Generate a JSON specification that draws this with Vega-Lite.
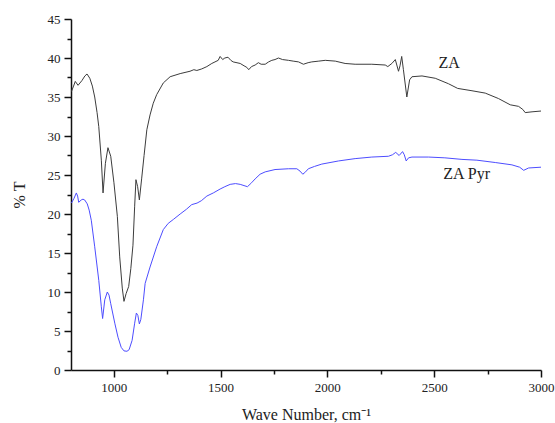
{
  "$schema": "https://vega.github.io/schema/vega-lite/v6.json",
  "width": 470,
  "height": 351,
  "autosize": {"type": "none"},
  "padding": {"left": 71, "top": 19, "right": 14, "bottom": 53},
  "background": "white",
  "config": {"view": {"stroke": null}, "font": "Liberation Serif"},
  "datasets": {
    "spectra": [
      {"s": "ZA", "x": 802, "y": 35.7}, {"s": "ZA", "x": 812, "y": 36.4}, {"s": "ZA", "x": 820, "y": 37.0}, {"s": "ZA", "x": 833, "y": 36.5},
      {"s": "ZA", "x": 851, "y": 37.1}, {"s": "ZA", "x": 865, "y": 37.7}, {"s": "ZA", "x": 875, "y": 37.95}, {"s": "ZA", "x": 888, "y": 37.4},
      {"s": "ZA", "x": 900, "y": 36.4}, {"s": "ZA", "x": 911, "y": 35.0}, {"s": "ZA", "x": 922, "y": 33.0}, {"s": "ZA", "x": 930, "y": 31.2},
      {"s": "ZA", "x": 942, "y": 26.9}, {"s": "ZA", "x": 950, "y": 22.7}, {"s": "ZA", "x": 961, "y": 26.5}, {"s": "ZA", "x": 973, "y": 28.5},
      {"s": "ZA", "x": 986, "y": 27.4}, {"s": "ZA", "x": 1001, "y": 24.0}, {"s": "ZA", "x": 1017, "y": 19.7}, {"s": "ZA", "x": 1028, "y": 14.5},
      {"s": "ZA", "x": 1040, "y": 10.5}, {"s": "ZA", "x": 1048, "y": 8.8}, {"s": "ZA", "x": 1058, "y": 9.8}, {"s": "ZA", "x": 1070, "y": 10.7},
      {"s": "ZA", "x": 1080, "y": 13.0}, {"s": "ZA", "x": 1090, "y": 16.0}, {"s": "ZA", "x": 1098, "y": 21.0}, {"s": "ZA", "x": 1104, "y": 24.4},
      {"s": "ZA", "x": 1112, "y": 23.5}, {"s": "ZA", "x": 1120, "y": 21.8}, {"s": "ZA", "x": 1131, "y": 24.6}, {"s": "ZA", "x": 1142, "y": 27.5},
      {"s": "ZA", "x": 1155, "y": 30.8}, {"s": "ZA", "x": 1170, "y": 32.7}, {"s": "ZA", "x": 1185, "y": 34.2}, {"s": "ZA", "x": 1201, "y": 35.3},
      {"s": "ZA", "x": 1232, "y": 36.8}, {"s": "ZA", "x": 1264, "y": 37.6}, {"s": "ZA", "x": 1311, "y": 38.0}, {"s": "ZA", "x": 1357, "y": 38.3},
      {"s": "ZA", "x": 1375, "y": 38.5}, {"s": "ZA", "x": 1389, "y": 38.4}, {"s": "ZA", "x": 1412, "y": 38.6}, {"s": "ZA", "x": 1436, "y": 38.9},
      {"s": "ZA", "x": 1459, "y": 39.3}, {"s": "ZA", "x": 1474, "y": 39.5}, {"s": "ZA", "x": 1489, "y": 39.7}, {"s": "ZA", "x": 1498, "y": 40.2},
      {"s": "ZA", "x": 1510, "y": 39.8}, {"s": "ZA", "x": 1520, "y": 40.0}, {"s": "ZA", "x": 1535, "y": 40.1}, {"s": "ZA", "x": 1548, "y": 39.7},
      {"s": "ZA", "x": 1559, "y": 39.5}, {"s": "ZA", "x": 1592, "y": 39.3}, {"s": "ZA", "x": 1610, "y": 39.0}, {"s": "ZA", "x": 1623, "y": 38.8},
      {"s": "ZA", "x": 1632, "y": 38.5}, {"s": "ZA", "x": 1645, "y": 38.9}, {"s": "ZA", "x": 1662, "y": 39.1}, {"s": "ZA", "x": 1677, "y": 39.4},
      {"s": "ZA", "x": 1690, "y": 39.2}, {"s": "ZA", "x": 1709, "y": 39.2}, {"s": "ZA", "x": 1725, "y": 39.5}, {"s": "ZA", "x": 1740, "y": 39.7},
      {"s": "ZA", "x": 1755, "y": 39.8}, {"s": "ZA", "x": 1771, "y": 40.0}, {"s": "ZA", "x": 1790, "y": 39.8}, {"s": "ZA", "x": 1818, "y": 39.7},
      {"s": "ZA", "x": 1840, "y": 39.6}, {"s": "ZA", "x": 1865, "y": 39.5}, {"s": "ZA", "x": 1888, "y": 39.2}, {"s": "ZA", "x": 1910, "y": 39.4},
      {"s": "ZA", "x": 1927, "y": 39.5}, {"s": "ZA", "x": 1960, "y": 39.6}, {"s": "ZA", "x": 1990, "y": 39.7}, {"s": "ZA", "x": 2037, "y": 39.6},
      {"s": "ZA", "x": 2083, "y": 39.3}, {"s": "ZA", "x": 2130, "y": 39.2}, {"s": "ZA", "x": 2208, "y": 39.2}, {"s": "ZA", "x": 2271, "y": 39.1},
      {"s": "ZA", "x": 2283, "y": 38.9}, {"s": "ZA", "x": 2302, "y": 39.3}, {"s": "ZA", "x": 2318, "y": 39.8}, {"s": "ZA", "x": 2333, "y": 38.3},
      {"s": "ZA", "x": 2340, "y": 39.0}, {"s": "ZA", "x": 2348, "y": 40.2}, {"s": "ZA", "x": 2356, "y": 38.5}, {"s": "ZA", "x": 2372, "y": 35.0},
      {"s": "ZA", "x": 2385, "y": 37.2}, {"s": "ZA", "x": 2396, "y": 37.6}, {"s": "ZA", "x": 2443, "y": 37.7}, {"s": "ZA", "x": 2505, "y": 37.4},
      {"s": "ZA", "x": 2567, "y": 36.7}, {"s": "ZA", "x": 2610, "y": 36.1}, {"s": "ZA", "x": 2677, "y": 35.8}, {"s": "ZA", "x": 2739, "y": 35.5},
      {"s": "ZA", "x": 2801, "y": 34.8}, {"s": "ZA", "x": 2856, "y": 34.0}, {"s": "ZA", "x": 2895, "y": 33.8}, {"s": "ZA", "x": 2915, "y": 33.4},
      {"s": "ZA", "x": 2926, "y": 33.0}, {"s": "ZA", "x": 2958, "y": 33.1}, {"s": "ZA", "x": 3000, "y": 33.2},
      {"s": "ZA Pyr", "x": 802, "y": 21.4}, {"s": "ZA Pyr", "x": 814, "y": 22.0}, {"s": "ZA Pyr", "x": 825, "y": 22.7}, {"s": "ZA Pyr", "x": 831, "y": 22.3},
      {"s": "ZA Pyr", "x": 836, "y": 21.5}, {"s": "ZA Pyr", "x": 848, "y": 21.8}, {"s": "ZA Pyr", "x": 856, "y": 21.9}, {"s": "ZA Pyr", "x": 864, "y": 21.8},
      {"s": "ZA Pyr", "x": 876, "y": 21.3}, {"s": "ZA Pyr", "x": 885, "y": 20.5}, {"s": "ZA Pyr", "x": 895, "y": 19.2}, {"s": "ZA Pyr", "x": 911, "y": 15.8},
      {"s": "ZA Pyr", "x": 930, "y": 11.5}, {"s": "ZA Pyr", "x": 942, "y": 8.1}, {"s": "ZA Pyr", "x": 948, "y": 6.6}, {"s": "ZA Pyr", "x": 958, "y": 9.0},
      {"s": "ZA Pyr", "x": 970, "y": 10.0}, {"s": "ZA Pyr", "x": 978, "y": 9.6}, {"s": "ZA Pyr", "x": 986, "y": 8.5}, {"s": "ZA Pyr", "x": 1005, "y": 6.0},
      {"s": "ZA Pyr", "x": 1020, "y": 4.2}, {"s": "ZA Pyr", "x": 1035, "y": 2.9}, {"s": "ZA Pyr", "x": 1048, "y": 2.45}, {"s": "ZA Pyr", "x": 1062, "y": 2.4},
      {"s": "ZA Pyr", "x": 1072, "y": 2.6}, {"s": "ZA Pyr", "x": 1086, "y": 3.8}, {"s": "ZA Pyr", "x": 1098, "y": 6.0}, {"s": "ZA Pyr", "x": 1106, "y": 7.3},
      {"s": "ZA Pyr", "x": 1113, "y": 7.0}, {"s": "ZA Pyr", "x": 1120, "y": 5.9}, {"s": "ZA Pyr", "x": 1127, "y": 6.5}, {"s": "ZA Pyr", "x": 1139, "y": 9.0},
      {"s": "ZA Pyr", "x": 1147, "y": 11.1}, {"s": "ZA Pyr", "x": 1170, "y": 13.2}, {"s": "ZA Pyr", "x": 1201, "y": 15.8}, {"s": "ZA Pyr", "x": 1232, "y": 18.0},
      {"s": "ZA Pyr", "x": 1255, "y": 18.8}, {"s": "ZA Pyr", "x": 1279, "y": 19.3}, {"s": "ZA Pyr", "x": 1311, "y": 20.0}, {"s": "ZA Pyr", "x": 1340, "y": 20.6},
      {"s": "ZA Pyr", "x": 1365, "y": 21.2}, {"s": "ZA Pyr", "x": 1390, "y": 21.4}, {"s": "ZA Pyr", "x": 1410, "y": 21.7}, {"s": "ZA Pyr", "x": 1436, "y": 22.3},
      {"s": "ZA Pyr", "x": 1466, "y": 22.7}, {"s": "ZA Pyr", "x": 1498, "y": 23.2}, {"s": "ZA Pyr", "x": 1520, "y": 23.5}, {"s": "ZA Pyr", "x": 1545, "y": 23.8},
      {"s": "ZA Pyr", "x": 1570, "y": 23.9}, {"s": "ZA Pyr", "x": 1592, "y": 23.8}, {"s": "ZA Pyr", "x": 1626, "y": 23.5}, {"s": "ZA Pyr", "x": 1645, "y": 24.0},
      {"s": "ZA Pyr", "x": 1662, "y": 24.5}, {"s": "ZA Pyr", "x": 1685, "y": 25.1}, {"s": "ZA Pyr", "x": 1709, "y": 25.4}, {"s": "ZA Pyr", "x": 1755, "y": 25.7},
      {"s": "ZA Pyr", "x": 1818, "y": 25.8}, {"s": "ZA Pyr", "x": 1857, "y": 25.8}, {"s": "ZA Pyr", "x": 1872, "y": 25.5}, {"s": "ZA Pyr", "x": 1885, "y": 25.1},
      {"s": "ZA Pyr", "x": 1898, "y": 25.4}, {"s": "ZA Pyr", "x": 1911, "y": 25.8}, {"s": "ZA Pyr", "x": 1940, "y": 26.1}, {"s": "ZA Pyr", "x": 1974, "y": 26.4},
      {"s": "ZA Pyr", "x": 2052, "y": 26.8}, {"s": "ZA Pyr", "x": 2130, "y": 27.1}, {"s": "ZA Pyr", "x": 2208, "y": 27.3}, {"s": "ZA Pyr", "x": 2286, "y": 27.4},
      {"s": "ZA Pyr", "x": 2305, "y": 27.6}, {"s": "ZA Pyr", "x": 2320, "y": 27.9}, {"s": "ZA Pyr", "x": 2336, "y": 27.5}, {"s": "ZA Pyr", "x": 2352, "y": 28.0},
      {"s": "ZA Pyr", "x": 2360, "y": 27.6}, {"s": "ZA Pyr", "x": 2369, "y": 26.8}, {"s": "ZA Pyr", "x": 2380, "y": 27.2}, {"s": "ZA Pyr", "x": 2396, "y": 27.3},
      {"s": "ZA Pyr", "x": 2474, "y": 27.3}, {"s": "ZA Pyr", "x": 2550, "y": 27.2}, {"s": "ZA Pyr", "x": 2630, "y": 27.0}, {"s": "ZA Pyr", "x": 2700, "y": 26.9},
      {"s": "ZA Pyr", "x": 2786, "y": 26.6}, {"s": "ZA Pyr", "x": 2864, "y": 26.3}, {"s": "ZA Pyr", "x": 2900, "y": 26.0}, {"s": "ZA Pyr", "x": 2919, "y": 25.6},
      {"s": "ZA Pyr", "x": 2942, "y": 25.9}, {"s": "ZA Pyr", "x": 3000, "y": 26.0}
    ],
    "labels": [
      {"x": 2570, "y": 38.7, "label": "ZA"},
      {"x": 2652, "y": 24.5, "label": "ZA Pyr"}
    ]
  },
  "resolve": {"axis": {"x": "independent", "y": "independent"}},
  "layer": [
    {
      "data": {"name": "spectra"},
      "mark": {"type": "line", "strokeWidth": 1, "clip": true},
      "encoding": {
        "x": {
          "field": "x", "type": "quantitative",
          "scale": {"domain": [800, 3000], "nice": false, "zero": false},
          "axis": {
            "orient": "bottom",
            "title": "Wave Number, cm⁻¹",
            "values": [1000, 1500, 2000, 2500, 3000],
            "format": "d",
            "grid": false,
            "domainColor": "#111", "domainWidth": 1.5,
            "tickColor": "#111", "tickWidth": 1.5, "tickSize": 7,
            "labelFont": "Liberation Serif", "labelFontSize": 13, "labelColor": "#222", "labelPadding": 4,
            "labelFlush": false, "labelOverlap": false,
            "titleFont": "Liberation Serif", "titleFontSize": 16, "titleFontWeight": "normal", "titleColor": "#222", "titlePadding": 12
          }
        },
        "y": {
          "field": "y", "type": "quantitative",
          "scale": {"domain": [0, 45], "nice": false},
          "axis": {
            "orient": "left",
            "title": "% T",
            "values": [0, 5, 10, 15, 20, 25, 30, 35, 40, 45],
            "grid": false,
            "domainColor": "#111", "domainWidth": 1.5,
            "tickColor": "#111", "tickWidth": 1.5, "tickSize": 7,
            "labelFont": "Liberation Serif", "labelFontSize": 13, "labelColor": "#222", "labelPadding": 4,
            "labelFlush": false, "labelOverlap": false,
            "titleFont": "Liberation Serif", "titleFontSize": 16, "titleFontWeight": "normal", "titleColor": "#222", "titlePadding": 20
          }
        },
        "color": {
          "field": "s", "type": "nominal",
          "scale": {"domain": ["ZA", "ZA Pyr"], "range": ["#3c3c3c", "#4d4dff"]},
          "legend": null
        }
      }
    },
    {
      "data": {"name": "labels"},
      "mark": {"type": "text", "font": "Liberation Serif", "fontSize": 16, "align": "center", "baseline": "alphabetic", "color": "#222"},
      "encoding": {
        "x": {
          "field": "x", "type": "quantitative",
          "axis": {
            "orient": "bottom", "title": null, "labels": false, "domain": false, "grid": false,
            "values": [1250, 1750, 2250, 2750],
            "tickColor": "#111", "tickWidth": 1.5, "tickSize": 4
          }
        },
        "y": {
          "field": "y", "type": "quantitative",
          "axis": {
            "orient": "left", "title": null, "labels": false, "domain": false, "grid": false,
            "values": [2.5, 7.5, 12.5, 17.5, 22.5, 27.5, 32.5, 37.5, 42.5],
            "tickColor": "#111", "tickWidth": 1.5, "tickSize": 4
          }
        },
        "text": {"field": "label"}
      }
    }
  ]
}
